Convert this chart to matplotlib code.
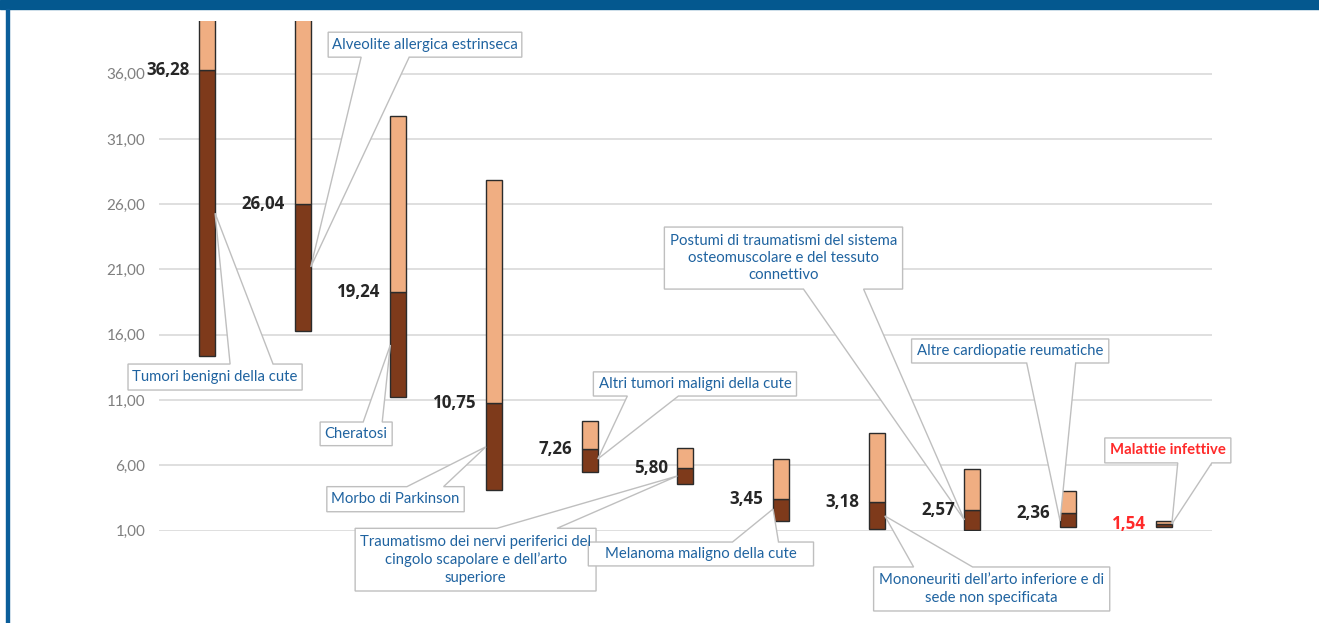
import matplotlib
matplotlib.use("Agg")
import matplotlib.pyplot as plt
from matplotlib.patches import Polygon, Rectangle
from matplotlib.ticker import FuncFormatter
import numpy as np

plt.rcParams['font.family'] = ['Lato', 'DejaVu Sans']

# Data
categories = [
    "Tumori benigni della cute",
    "Alveolite allergica estrinseca",
    "Cheratosi",
    "Morbo di Parkinson",
    "Altri tumori maligni della cute",
    "Traumatismo dei nervi periferici del\ncingolo scapolare e dell’arto\nsuperiore",
    "Melanoma maligno della cute",
    "Mononeuriti dell’arto inferiore e di\nsede non specificata",
    "Postumi di traumatismi del sistema\nosteomuscolare e del tessuto\nconnettivo",
    "Altre cardiopatie reumatiche",
    "Malattie infettive",
]
point = [36.28, 26.04, 19.24, 10.75, 7.26, 5.80, 3.45, 3.18, 2.57, 2.36, 1.54]
lower = [14.38, 16.31, 11.27, 4.12, 5.52, 4.58, 1.77, 1.15, 1.08, 1.28, 1.31]
upper = [52.0, 58.0, 32.78, 27.85, 9.42, 7.31, 6.51, 8.46, 5.75, 4.06, 1.74]
highlight = "Malattie infettive"

# Callout layout: box (x0, x1, y0, y1), wedge base x (b0, b1), wedge side,
# tip side of the bar (-1 left edge, +1 right edge), tip height
callouts = [
    ((-0.826, 0.994, 11.77, 13.76), (0.241, 0.690), 'top', +1, 25.31),
    ((1.266, 3.290, 37.26, 39.17), (1.611, 2.113), 'bottom', +1, 21.19),
    ((1.182, 1.935, 7.51, 9.32), (1.632, 1.831), 'top', -1, 15.22),
    ((1.252, 2.688, 2.45, 4.37), (2.089, 2.472), 'top', -1, 7.43),
    ((4.038, 6.161, 11.31, 13.16), (4.393, 4.927), 'bottom', +1, 6.49),
    ((1.548, 4.066, -3.62, 1.18), (3.030, 3.658), 'top', -1, 5.19),
    ((3.985, 6.339, -1.70, 0.13), (5.492, 5.973), 'top', -1, 2.66),
    ((6.967, 9.435, -5.15, -1.78), (7.385, 8.002), 'top', +1, 2.13),
    ((4.780, 7.270, 19.50, 24.25), (6.234, 6.862), 'bottom', -1, 1.82),
    ((7.364, 9.425, 13.84, 15.68), (8.567, 9.079), 'bottom', -1, 1.74),
    ((9.383, 10.701, 6.19, 8.10), (10.146, 10.502), 'bottom', +1, 1.51),
]

DARK = '#7E3A1B'
LIGHT = '#F0AE82'
BLUE_TXT = '#1F63A0'
RED = '#FF2A2A'
BAR_W = 0.168

fig = plt.figure(figsize=(13.19, 6.23), dpi=100)
ax = fig.add_axes([0.1207, 0.1482, 0.7979, 0.8175])

x = np.arange(len(categories))
low = np.array(lower)
mid = np.array(point)
up = np.array(upper)

ax.bar(x, mid - low, bottom=low, width=BAR_W, color=DARK,
       edgecolor='#2B2B2B', linewidth=1.0, zorder=2)
ax.bar(x, up - mid, bottom=mid, width=BAR_W, color=LIGHT,
       edgecolor='#2B2B2B', linewidth=1.0, zorder=2)

# Value labels on the left of each bar
for i, (cat, v) in enumerate(zip(categories, point)):
    col = RED if cat == highlight else '#262626'
    ax.annotate(f"{v:.2f}".replace('.', ','), xy=(i - BAR_W / 2, v),
                xytext=(-7, 0), textcoords='offset points',
                ha='right', va='center', fontsize=12.2, fontweight='bold',
                family=['Open Sans', 'DejaVu Sans'], color=col, zorder=5)

# Callouts
for i, (cat, (box, base, side, tside, ty)) in enumerate(zip(categories, callouts)):
    x0, x1, y0, y1 = box
    b0, b1 = base
    tip = (i + tside * BAR_W / 2, ty)
    if side == 'top':
        pts = [(x0, y1), (b0, y1), tip, (b1, y1), (x1, y1), (x1, y0), (x0, y0)]
    else:
        pts = [(x0, y0), (b0, y0), tip, (b1, y0), (x1, y0), (x1, y1), (x0, y1)]
    poly = Polygon(pts, closed=True, facecolor='white', edgecolor='#BFBFBF',
                   linewidth=1.0, zorder=4, clip_on=False)
    ax.add_patch(poly)
    red = cat == highlight
    ax.text((x0 + x1) / 2, (y0 + y1) / 2, cat, ha='center', va='center',
            fontsize=10.7, color=RED if red else BLUE_TXT,
            fontweight='bold' if red else 'normal', linespacing=1.3,
            zorder=5, clip_on=False)

ax.set_xlim(-0.5, len(categories) - 0.5)
ax.set_ylim(1, 40)
ax.set_yticks(np.arange(1, 40, 5))
ax.yaxis.set_major_formatter(FuncFormatter(lambda v, p: f"{v:.2f}".replace('.', ',')))
ax.tick_params(axis='y', length=0, pad=10, labelsize=10.9, labelcolor='#7F7F7F')
ax.set_xticks([])
ax.grid(axis='y', color='#D9D9D9', linewidth=1.2, zorder=0)
ax.set_axisbelow(True)
for s in ax.spines.values():
    s.set_visible(False)

# Blue frame: band at top and thin line on the left
fig.patches.append(Rectangle((0, 1 - 9 / 623), 1, 9 / 623, transform=fig.transFigure,
                             color='#04588F', zorder=10))
fig.patches.append(Rectangle((6 / 1319, 0), 2.6 / 1319, 1 - 9 / 623,
                             transform=fig.transFigure, color='#0B5E9A', zorder=10))

fig.savefig('out.png', dpi=100)
